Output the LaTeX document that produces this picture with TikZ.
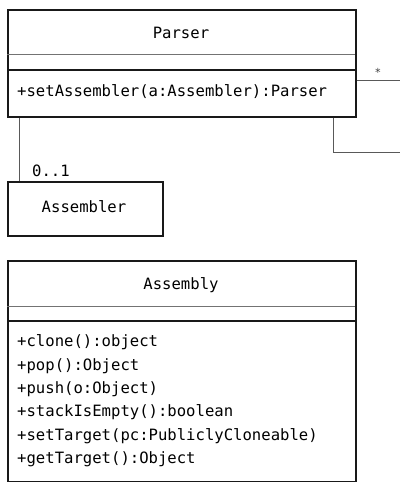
\documentclass[tikz,border=0pt]{standalone}
\usepackage{fontspec}
\setmonofont{DejaVu Sans Mono}
\begin{document}
\begin{tikzpicture}[x=1pt,y=-1pt,
  box/.style={draw=black!90, line width=1.5pt, anchor=north west, inner sep=0pt},
  thinsep/.style={draw=black!55, line width=0.9pt},
  thicksep/.style={draw=black!90, line width=1.5pt},
  conn/.style={draw=black!65, line width=1pt},
  txt/.style={font=\ttfamily\fontsize{15.6}{18}\selectfont, text=black, inner sep=0pt},
  meth/.style={txt, anchor=west}]
\fill[white] (0,0) rectangle (400,482);
\useasboundingbox (0,0) rectangle (400,482);

% Parser
\node[box, minimum width=348pt, minimum height=107pt] (parser) at (7,9) {};
\draw[thinsep] (7,54) -- (355,54);
\draw[thicksep] (7,70) -- (355,70);
\node[txt] (pname) at (181,33) {Parser};
\node[meth] (pm1) at (17,92) {+setAssembler(a:Assembler):Parser};

% Assembler
\node[box, minimum width=155pt, minimum height=54pt] (assembler) at (7,181) {};
\node[txt] (aname) at (84,207) {Assembler};
\node[txt, anchor=west] (mult) at (32,171) {0..1};

% Assembly
\node[box, minimum width=348pt, minimum height=221pt] (assembly) at (7,260) {};
\draw[thinsep] (7,306) -- (355,306);
\draw[thicksep] (7,321) -- (355,321);
\node[txt] (yname) at (181,285) {Assembly};
\node[meth] (m1) at (17,342) {+clone():object};
\node[meth] (m2) at (17,366) {+pop():Object};
\node[meth] (m3) at (17,389) {+push(o:Object)};
\node[meth] (m4) at (17,412) {+stackIsEmpty():boolean};
\node[meth] (m5) at (17,436) {+setTarget(pc:PubliclyCloneable)};
\node[meth] (m6) at (17,459) {+getTarget():Object};

% connectors
\draw[conn] ([xshift=12pt]parser.south west) -- ([xshift=12pt]assembler.north west);
\coordinate (e1) at (400,80);
\coordinate (e2) at (400,152);
\draw[conn] (parser.east |- e1) -- (e1);
\draw[conn] ([xshift=-23pt]parser.south east) |- (e2);
\node[font=\ttfamily\fontsize{11}{12}\selectfont, text=black!75, inner sep=0pt] (star) at (378,72) {*};
\end{tikzpicture}
\end{document}
